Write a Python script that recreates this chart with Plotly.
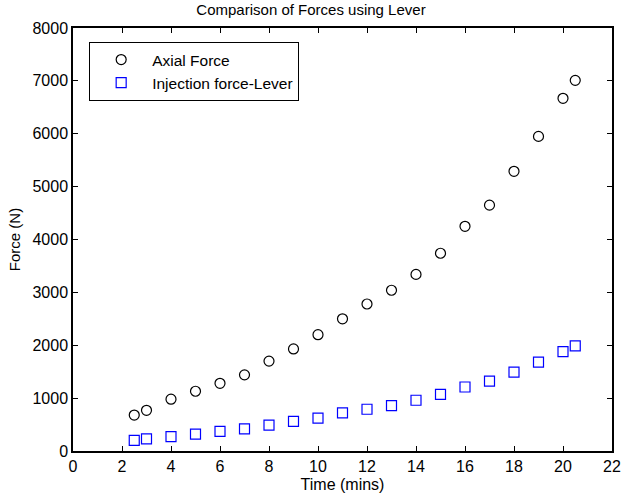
import plotly.graph_objects as go

time = [2.5, 3, 4, 5, 6, 7, 8, 9, 10, 11, 12, 13, 14, 15, 16, 17, 18, 19, 20, 20.5]
axial_force = [680, 770, 980, 1130, 1280, 1440, 1700, 1930, 2200, 2500, 2780, 3040, 3340, 3740, 4250, 4650, 5290, 5950, 6670, 7010]
injection_force = [200, 230, 270, 320, 370, 420, 490, 560, 620, 720, 790, 860, 960, 1070, 1210, 1320, 1490, 1680, 1880, 1990]

x_ticks = list(range(0, 23, 2))
y_ticks = list(range(0, 8001, 1000))

fig = go.Figure()
fig.add_trace(go.Scatter(
    x=time, y=axial_force, mode="markers", name="Axial Force",
    marker=dict(symbol="circle-open", size=10, color="black", line=dict(width=1.2, color="black"))))
fig.add_trace(go.Scatter(
    x=time, y=injection_force, mode="markers", name="Injection force-Lever",
    marker=dict(symbol="square-open", size=10, color="blue", line=dict(width=1.2, color="blue"))))

font = "Liberation Sans, Arial, sans-serif"
axis_common = dict(showgrid=False, zeroline=False, showline=True, linecolor="black", linewidth=1.5,
                   mirror="ticks", ticks="inside", ticklen=5, tickcolor="black", automargin=False,
                   tickfont=dict(family=font, size=16, color="black"))

fig.update_layout(
    width=622, height=498,
    paper_bgcolor="white", plot_bgcolor="white",
    margin=dict(l=73, r=10, t=28, b=47),
    title=dict(text="Comparison of Forces using Lever", x=0.5, xanchor="center", y=0.98, yanchor="middle",
               font=dict(family=font, size=15, color="black"), automargin=False),
    xaxis=dict(range=[0, 22], tickvals=x_ticks, title=dict(text="Time (mins)", standoff=5,
               font=dict(family=font, size=16, color="black")), **axis_common),
    yaxis=dict(range=[0, 8000], tickvals=y_ticks, title=dict(text="Force (N)", standoff=8,
               font=dict(family=font, size=15, color="black")), **axis_common),
    legend=dict(x=0.03, y=0.967, xanchor="left", yanchor="top", bgcolor="white",
                bordercolor="black", borderwidth=1, font=dict(family=font, size=15.5, color="black"),
                itemwidth=52, tracegroupgap=0),
    showlegend=True,
)

fig.write_html("out.html", config={"displayModeBar": False},
               post_script="document.body.style.margin='0';document.body.style.overflow='hidden';")
